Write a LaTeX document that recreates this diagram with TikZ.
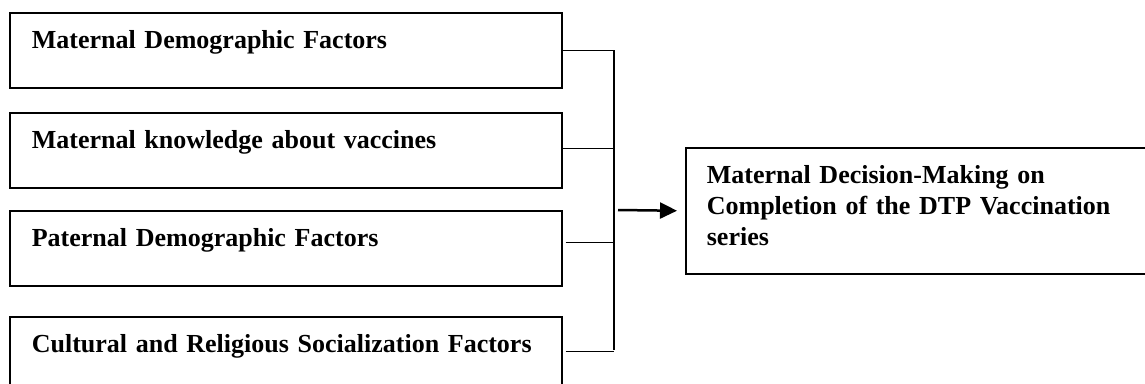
\documentclass[tikz,border=0pt]{standalone}
\usepackage{fontspec}
\setmainfont{Liberation Serif}
\usetikzlibrary{arrows.meta,positioning,calc}

\tikzset{
	factor/.style={draw,line width=1.7pt,anchor=north west,inner xsep=22pt,inner ysep=0pt,
		text width=508pt,align=left,text height=36pt,text depth=39pt,
		font=\fontsize{26}{31}\selectfont\bfseries},
	outcome/.style={draw,line width=1.7pt,anchor=north west,inner xsep=21pt,inner ysep=0pt,
		text width=438pt,align=left,text height=36pt,text depth=90pt,
		font=\fontsize{26}{31}\selectfont\bfseries},
	link/.style={line width=1.7pt},
}

\begin{document}
\begin{tikzpicture}[x=1pt,y=-1pt]
	\clip (0,0) rectangle (1145,383);
	% the four factor boxes
	\node[factor] (mdf) at (9,12) {Maternal Demographic Factors};
	\node[factor] (mkv) at (9,112) {Maternal knowledge about vaccines};
	\node[factor] (pdf) at (9,210) {Paternal Demographic Factors};
	\node[factor] (crs) at (9,316) {Cultural and Religious Socialization Factors};
	% outcome box
	\node[outcome] (dec) at (685,147) {Maternal Decision-Making on\\Completion of the DTP Vaccination\\series};
	% the bus
	\coordinate (bus top) at (614,50);
	\coordinate (bus bot) at (614,350);
	\coordinate (join) at (618,210);
	\draw[link] (bus top) -- (bus bot);
	\draw[link] (mdf.east) -- (mdf.east -| bus top);
	\draw[link] ([yshift=2pt]mkv.east) -- ([yshift=2pt]mkv.east -| bus top);
	\draw[link,shorten <=3pt] ([yshift=6pt]pdf.east) -- ([yshift=6pt]pdf.east -| bus top);
	\draw[link,shorten <=3pt] ([yshift=3pt]crs.east) -- ([yshift=3pt]crs.east -| bus top);
	\draw[line width=2.5pt,-{Triangle[length=17pt,width=16pt]},shorten >=8pt] (join) -- (dec.west);
\end{tikzpicture}
\end{document}
